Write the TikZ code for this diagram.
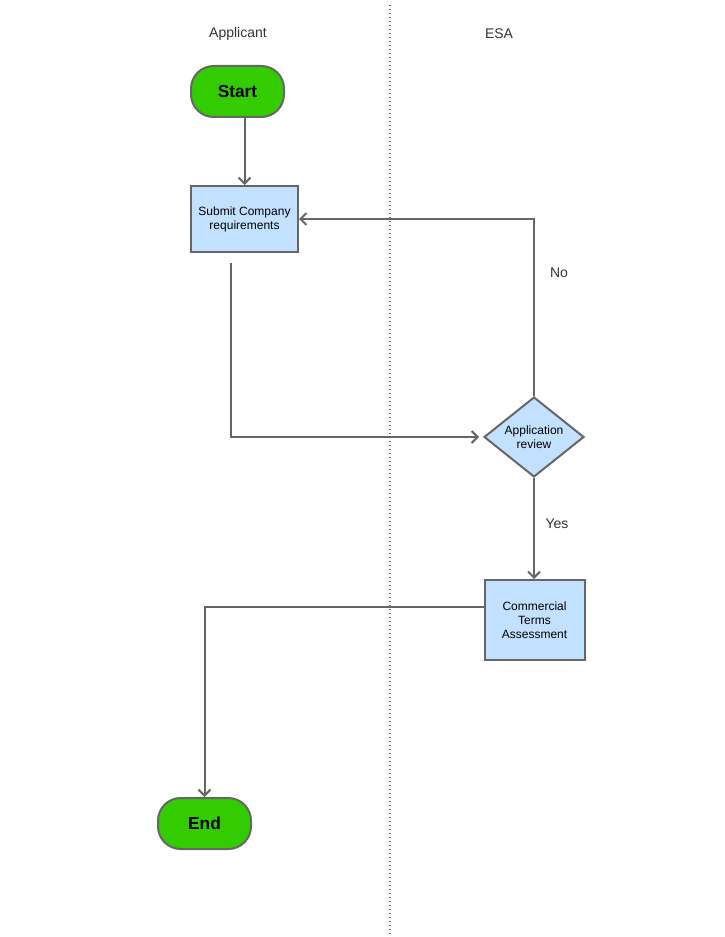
\documentclass[tikz,border=0pt]{standalone}
\usepackage{fontspec}
\setmainfont{Liberation Sans}
\usetikzlibrary{arrows, arrows.meta, shapes, positioning, calc}
\definecolor{termgreen}{HTML}{33CC00}
\definecolor{procblue}{HTML}{C2E0FF}
\definecolor{linegray}{HTML}{666666}

\begin{document}
\begin{tikzpicture}[x=0.75pt,y=-0.75pt,
  term/.style={rectangle,rounded corners=17pt,draw=linegray,line width=1.5pt,fill=termgreen,minimum width=69.75pt,minimum height=38.25pt,font=\fontsize{13}{15}\selectfont\bfseries},
  proc/.style={rectangle,draw=linegray,line width=1.5pt,fill=procblue,align=center,inner sep=1pt,font=\fontsize{9}{10.5}\selectfont},
  dec/.style={diamond,draw=linegray,line width=1.5pt,fill=procblue,align=center,aspect=1.25,inner sep=0pt,minimum width=75pt,minimum height=60pt,font=\fontsize{9}{10.5}\selectfont},
  flow/.style={draw=linegray,line width=1.5pt,-{Straight Barb[length=4.5pt,width=9pt]}},
  lbl/.style={font=\fontsize{10.5}{12}\selectfont,text=black!80}]
\useasboundingbox (0,0) rectangle (724,937);
% Lanes
\node[lbl] (lane_app) at (238,34) {Applicant};
\node[lbl] (lane_esa) at (499,34) {ESA};
\draw[linegray,line width=1pt,dash pattern=on 0.75pt off 2.25pt] (390,5) coordinate (sep_top) -- (390,937) coordinate (sep_bot);
% Applicant side
\node[term] (start) at (237.5,91.5) {Start};
\node[proc,minimum width=80.25pt,minimum height=49.5pt] (submit) at (244.5,219) {Submit Company\\requirements};
\node[term] (finish) at (204.5,823.5) {End};
% ESA side
\node[dec] (review) at (534,437) {Application\\review};
\node[proc,minimum width=75pt,minimum height=60pt] (assess) at (534.5,620) {Commercial\\Terms\\Assessment};
% Connectors
\draw[flow] (submit.north|-start.south) -- (submit.north);
\draw[flow] ($(submit.south)+(-13.5,10)$) |- ($(review.west)+(-4,0)$);
\draw[flow] (review.north) |- (submit.east);
\draw[flow] (review.south) -- (review.south|-assess.north);
\draw[flow] ($(assess.west)+(0,-13)$) -| (finish.north);
\node[lbl] (lbl_no) at (559,273) {No};
\node[lbl] (lbl_yes) at (557,524) {Yes};
\end{tikzpicture}
\end{document}
